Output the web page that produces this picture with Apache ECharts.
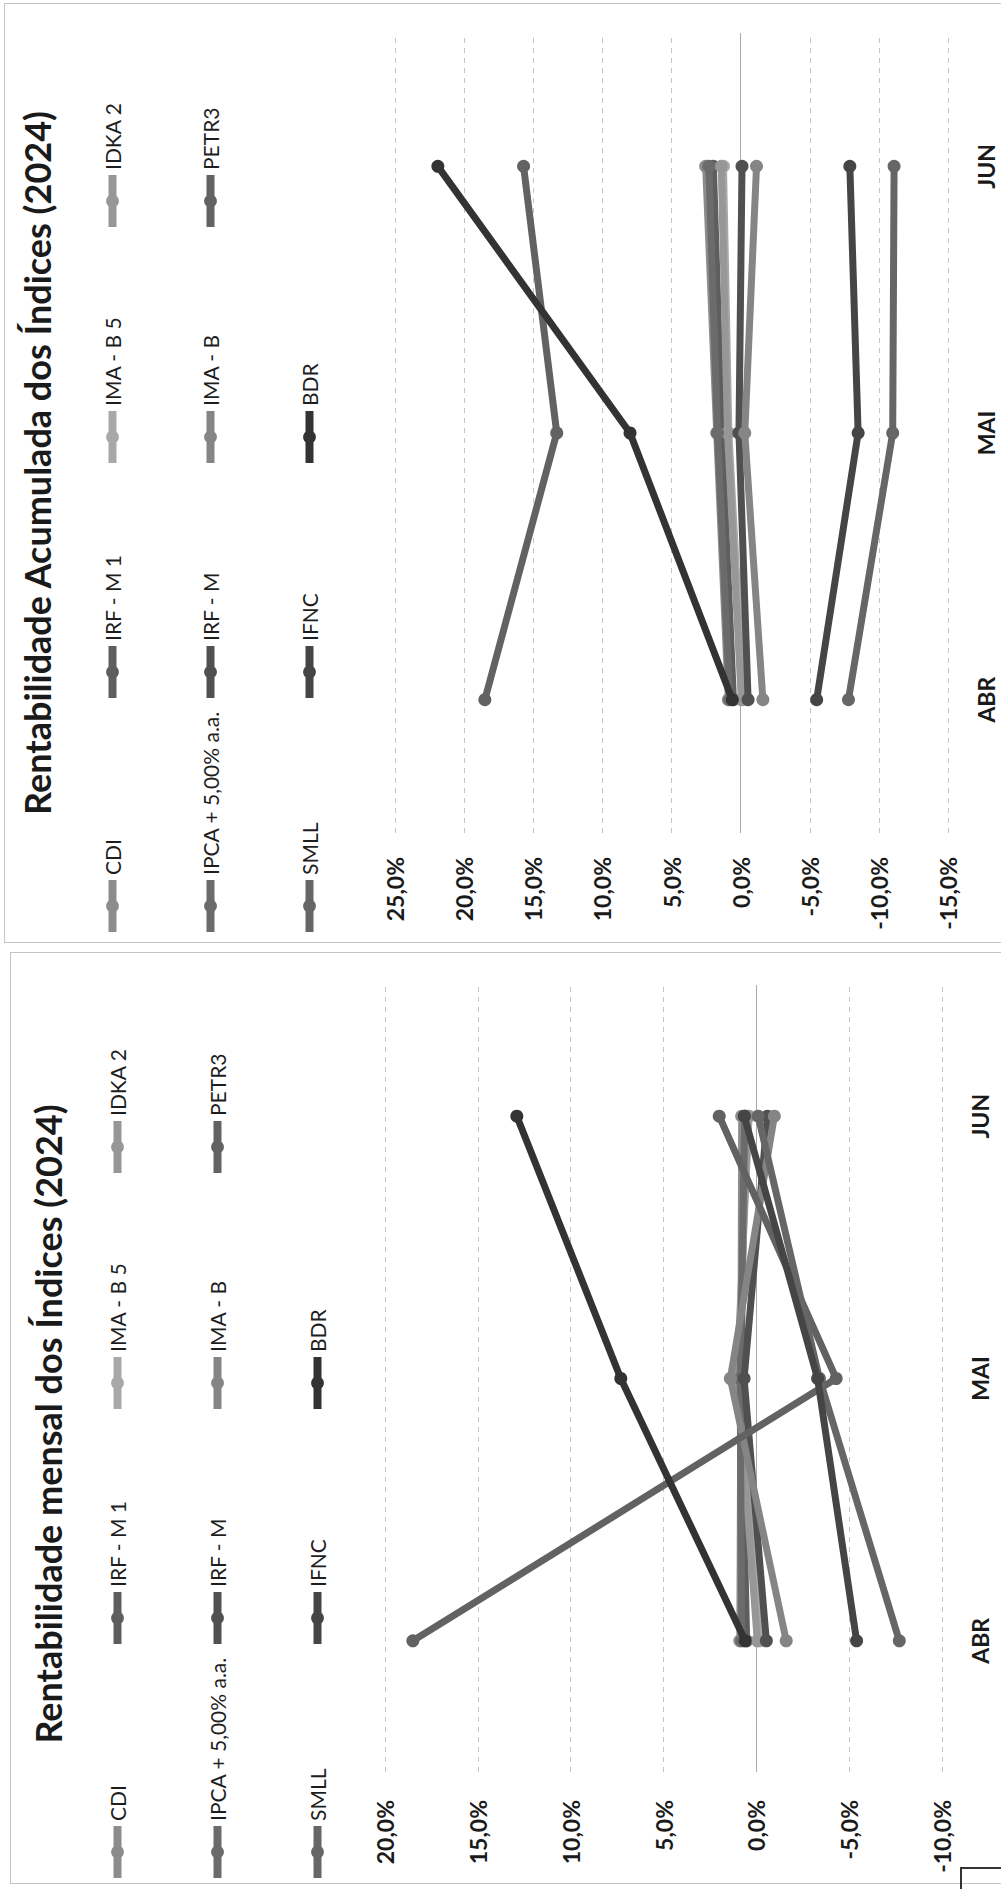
<!DOCTYPE html>
<html><head><meta charset="utf-8">
<script src="https://cdn.jsdelivr.net/npm/echarts@6/dist/echarts.min.js"></script>
<style>
html,body{margin:0;padding:0;background:#fff;width:1001px;height:1889px;overflow:hidden;position:relative;}
.frame{position:absolute;border:1px solid #c4c4c4;box-sizing:border-box;}
.holder{position:absolute;}
.rot{position:absolute;left:0;top:0;transform-origin:0 0;}
</style></head><body>
<div class="frame" style="left:4px;top:3px;width:1010px;height:940px"></div>
<div class="frame" style="left:10px;top:952px;width:1010px;height:932px"></div>
<div class="holder" style="left:4px;top:3px;width:997px;height:940px"><div id="acum" class="rot" style="width:940px;height:997px;transform:translateY(940px) rotate(-90deg)"></div></div>
<div class="holder" style="left:10px;top:952px;width:991px;height:937px"><div id="mensal" class="rot" style="width:937px;height:991px;transform:translateY(937px) rotate(-90deg)"></div></div>
<div style="position:absolute;left:960px;top:1867px;width:50px;height:30px;border:2px solid #333;box-sizing:border-box"></div>
<script>
// ---- data ----
const categories = ['ABR', 'MAI', 'JUN'];
const seriesNames = ['CDI', 'IRF - M 1', 'IMA - B 5', 'IDKA 2', 'IPCA + 5,00% a.a.', 'IRF - M', 'IMA - B', 'PETR3', 'SMLL', 'IFNC', 'BDR'];

// Rentabilidade mensal (%)
const mCDI   = [0.89, 0.83, 0.79];
const mIRFM1 = [0.52, 0.84, 0.59];
const mIMAB5 = [-0.20, 1.05, 0.39];
const mIDKA2 = [-0.05, 1.00, 0.45];
const mIPCA5 = [0.79, 0.87, 0.62];
const mIRFM  = [-0.54, 0.66, -0.60];
const mIMAB  = [-1.61, 1.40, -0.97];
const mPETR3 = [18.5, -4.3, 2.0];
const mSMLL  = [-7.7, -3.4, -0.1];
const mIFNC  = [-5.4, -3.3, 0.65];
const mBDR   = [0.6, 7.3, 12.9];

// Rentabilidade acumulada (%)
const aCDI   = [0.89, 1.73, 2.53];
const aIRFM1 = [0.52, 1.37, 1.97];
const aIMAB5 = [-0.20, 0.85, 1.24];
const aIDKA2 = [-0.05, 0.95, 1.40];
const aIPCA5 = [0.79, 1.67, 2.30];
const aIRFM  = [-0.54, 0.12, -0.10];
const aIMAB  = [-1.61, -0.30, -1.15];
const aPETR3 = [18.5, 13.3, 15.7];
const aSMLL  = [-7.8, -11.0, -11.1];
const aIFNC  = [-5.5, -8.5, -7.9];
const aBDR   = [0.6, 8.0, 21.9];

const mensalValues = [mCDI, mIRFM1, mIMAB5, mIDKA2, mIPCA5, mIRFM, mIMAB, mPETR3, mSMLL, mIFNC, mBDR];
const acumValues   = [aCDI, aIRFM1, aIMAB5, aIDKA2, aIPCA5, aIRFM, aIMAB, aPETR3, aSMLL, aIFNC, aBDR];

const colors = ['#8c8c8c', '#5e5e5e', '#a8a8a8', '#979797', '#6b6b6b', '#505050', '#858585', '#626262', '#666666', '#454545', '#333333'];

// ---- styling ----
const F = "Lato, Carlito, 'Liberation Sans', sans-serif";
const legendCols = [7, 241, 476, 712];

function pct(v) { return v.toFixed(1).replace('.', ',') + '%'; }

function buildOption(cfg) {
  const legends = seriesNames.map((n, i) => ({
    data: [n],
    left: legendCols[i % 4],
    top: cfg.legendRows[Math.floor(i / 4)] - 11,
    orient: 'horizontal',
    itemWidth: 52, itemHeight: 16, itemGap: 0, padding: 0,
    selectedMode: false,
    lineStyle: { width: 8 },
    textStyle: { fontFamily: F, fontSize: 21, color: '#1e1e1e' }
  }));
  const series = [{
    type: 'line', data: [], z: 1, silent: true,
    markLine: {
      silent: true, symbol: 'none', label: { show: false },
      lineStyle: { type: 'solid', color: '#a9a9a9', width: 1 },
      data: [{ yAxis: 0 }], animation: false
    }
  }];
  seriesNames.forEach((n, i) => {
    series.push({
      type: 'line', name: n, data: cfg.values[i],
      symbol: 'circle', symbolSize: 13, z: 2 + i,
      lineStyle: { width: 7, color: colors[i] },
      itemStyle: { color: colors[i] }
    });
  });
  return {
    animation: false,
    color: colors,
    graphic: [{
      type: 'text', x: cfg.titleX, y: cfg.titleY,
      style: { text: cfg.title, fontFamily: F, fontWeight: 'bold', fontSize: 36, fill: '#1a1a1a',
               textAlign: 'center', textVerticalAlign: 'middle', align: 'center', verticalAlign: 'middle' }
    }],
    legend: legends,
    grid: cfg.grid,
    xAxis: {
      type: 'category', data: categories, boundaryGap: true,
      axisLine: { show: false, onZero: false }, axisTick: { show: false },
      axisLabel: { fontFamily: F, fontWeight: 'bold', fontSize: 23, color: '#1a1a1a', margin: 26 },
      splitLine: { show: false }
    },
    yAxis: {
      type: 'value', min: cfg.min, max: cfg.max, interval: 5,
      axisLine: { show: false }, axisTick: { show: false },
      splitLine: { lineStyle: { type: [5, 5], color: '#c4c4c4', width: 1 } },
      axisLabel: { fontFamily: F, fontWeight: 'bold', fontSize: 23, color: '#1a1a1a', margin: cfg.yMargin, formatter: pct }
    },
    series: series
  };
}

const acum = echarts.init(document.getElementById('acum'), null, { renderer: 'svg', width: 940, height: 997 });
acum.setOption(buildOption({
  title: 'Rentabilidade Acumulada dos Índices (2024)', titleX: 480, titleY: 33,
  legendRows: [109, 207, 306],
  grid: { left: 110, right: 30, top: 391, bottom: 53, containLabel: false },
  min: -15, max: 25, yMargin: 24,
  values: acumValues
}));

const mensal = echarts.init(document.getElementById('mensal'), null, { renderer: 'svg', width: 937, height: 991 });
mensal.setOption(buildOption({
  title: 'Rentabilidade mensal dos Índices (2024)', titleX: 465, titleY: 38,
  legendRows: [108, 208, 308],
  grid: { left: 117, right: 33, top: 375, bottom: 59, containLabel: false },
  min: -10, max: 20, yMargin: 28,
  values: mensalValues
}));
</script>
</body></html>
